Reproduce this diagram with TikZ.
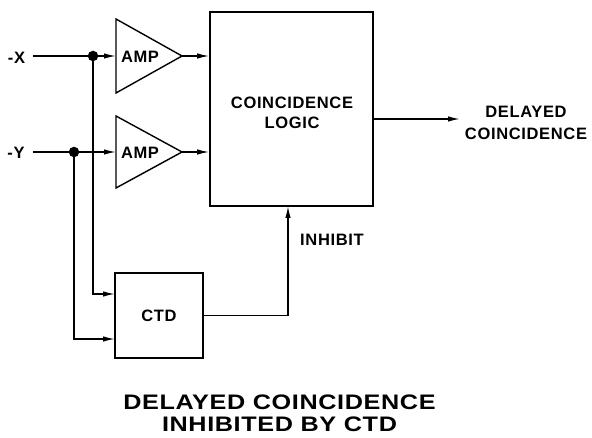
\documentclass[tikz,border=0pt]{standalone}
\usepackage{fontspec}
\usetikzlibrary{arrows.meta}
\newfontfamily\labfont[LetterSpace=4]{Liberation Sans}
\newfontfamily\titlefont[FakeStretch=1.2,LetterSpace=3]{Liberation Sans}
\begin{document}
\begin{tikzpicture}[x=1pt,y=-1pt,
  wire/.style={line width=1.4pt},
  sig/.style={wire,-{Latex[length=12pt,width=5.5pt]}},
  blk/.style={draw,line width=1.7pt,inner sep=0pt},
  amp/.style={draw,line width=1.4pt,line join=miter},
  lab/.style={font=\labfont\bfseries\fontsize{16.5}{20}\selectfont,inner sep=0pt,align=center},
  ttl/.style={font=\titlefont\bfseries\fontsize{21}{22}\selectfont,inner sep=0pt,align=center},
  jn/.style={circle,fill,inner sep=0pt,minimum size=10.5pt}]
\useasboundingbox (0,0) rectangle (592,438);

% blocks
\node[blk,minimum width=163pt,minimum height=194pt] (logic) at (291.5,109) {};
\node[lab] (logiclab) at (292,113) {COINCIDENCE\\LOGIC};
\node[blk,lab,minimum width=88pt,minimum height=85pt] (ctd) at (159,315.5) {CTD};

% amplifiers
\draw[amp] (116,19) -- (182,56) -- (116,93) -- cycle;
\draw[amp] (116,116) -- (182,152) -- (116,188) -- cycle;
\node[lab] (ampx) at (140,57) {AMP};
\node[lab] (ampy) at (140,153) {AMP};
\coordinate (ampXin) at (116,56);
\coordinate (ampXout) at (182,56);
\coordinate (ampYin) at (116,152);
\coordinate (ampYout) at (182,152);

% inputs and junctions
\node[lab] (inx) at (16.5,58) {-X};
\node[lab] (iny) at (16,153) {-Y};
\coordinate (xs) at (33,56);
\coordinate (ys) at (33,152);
\node[jn] (jx) at (93,56) {};
\node[jn] (jy) at (74,152) {};
\coordinate (ctdA) at (115,294);
\coordinate (ctdB) at (115,339);
\coordinate (inh) at (288,206);
\coordinate (lo) at (373,119);
\coordinate (out) at (460,119);

% connectors
\draw[wire] (xs) -- (jx);
\draw[sig] (jx) -- (ampXin);
\draw[sig] (ampXout) -- (ampXout -| logic.west);
\draw[wire] (ys) -- (jy);
\draw[sig] (jy) -- (ampYin);
\draw[sig] (ampYout) -- (ampYout -| logic.west);
\draw[sig] (jx.center) |- (ctdA);
\draw[sig] (jy.center) |- (ctdB);
\draw[sig] (ctd.east) -| (inh);
\draw[sig] (lo) -- (out);

% labels
\node[lab,anchor=west] (inhlab) at (300,240) {INHIBIT};
\node[lab,font=\labfont\bfseries\fontsize{16.5}{22}\selectfont] (outlab) at (526,123) {DELAYED\\COINCIDENCE};
\node[ttl] (title) at (279.5,413) {DELAYED COINCIDENCE\\INHIBITED BY CTD};
\end{tikzpicture}
\end{document}
